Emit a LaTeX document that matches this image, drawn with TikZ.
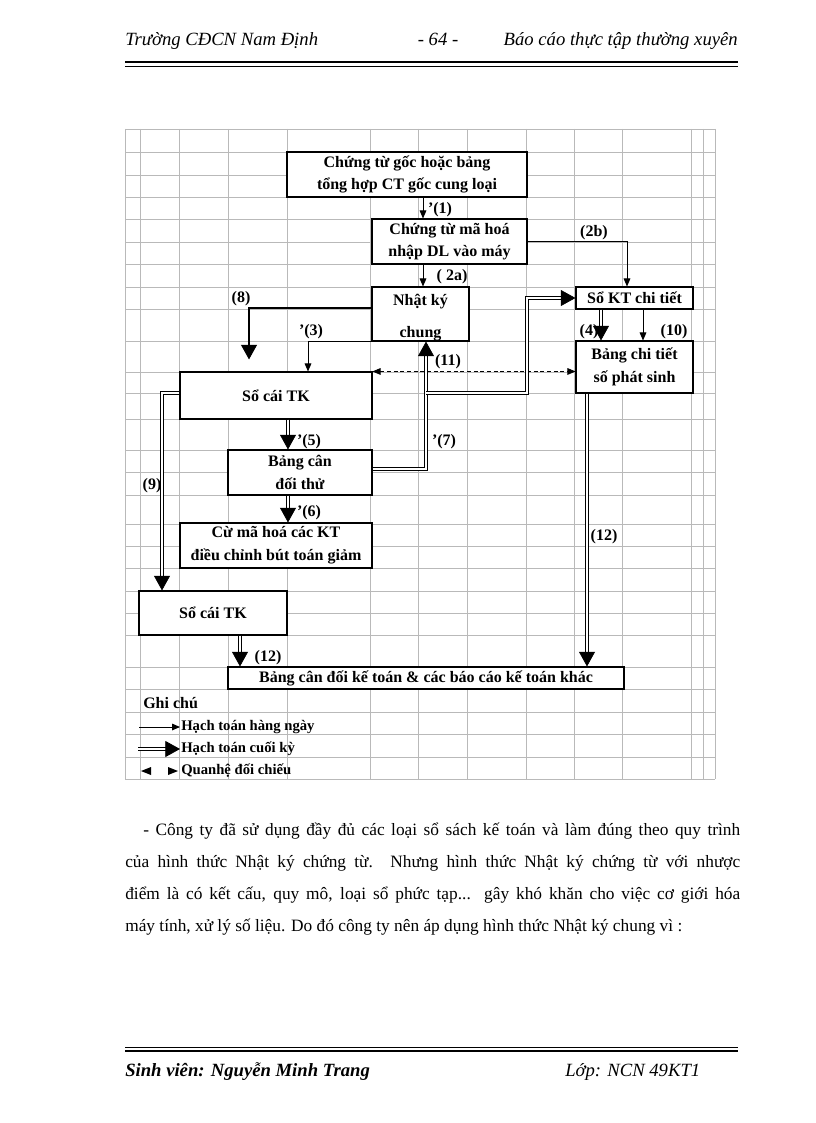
\documentclass[tikz,border=0pt]{standalone}
\usepackage{fontspec}
\setmainfont{Liberation Serif}
\usetikzlibrary{arrows.meta}
\begin{document}
\begin{tikzpicture}[x=0.75pt,y=-0.75pt,
  box/.style={draw,line width=0.8pt,fill=white,font=\fontsize{12}{17}\selectfont\bfseries,align=center,inner sep=0pt},
  lbl/.style={font=\fontsize{12}{14}\selectfont\bfseries,inner sep=0pt},
  lgd/.style={font=\fontsize{11}{13}\selectfont\bfseries,inner sep=0pt,anchor=west},
  daily/.style={line width=0.7pt,-{Triangle[length=6pt,width=5pt]}},
  endsg/.style={line width=0.8pt,-{Triangle[length=11pt,width=12pt]}},
  endp/.style={double,line width=0.6pt,double distance=1.6pt,-{Triangle[length=11pt,width=12pt]}},
  cmp/.style={dashed,line width=0.6pt,dash pattern=on 3pt off 2pt,{Triangle[length=6pt,width=5pt]}-{Triangle[length=6pt,width=5pt]}},
  gridln/.style={gray!55,line width=0.5pt},
  hdr/.style={inner sep=0pt,font=\fontsize{14}{16}\selectfont\itshape}
]
\useasboundingbox (0,0) rectangle (816,1123);
\fill[white] (0,0) rectangle (816,1123);

% header
\node[hdr,anchor=base west] (h1) at (125,46) {Trường CĐCN Nam Định};
\node[hdr,anchor=base] (h2) at (438,46) {- 64 -};
\node[hdr,anchor=base east] (h3) at (738,46) {Báo cáo thực tập thường xuyên};
\draw[line width=1.6pt] (125,62) -- (738,62);
\draw[line width=0.6pt] (125,66) -- (738,66);

% grid
\foreach \x in {125,140,179,228,287,370,418,467,526,574,622,691,703,715}
  \draw[gridln] (\x,129) -- (\x,779);
\foreach \y in {129,152,175,197,219,242,264,287,309,341,372,393,419,450,472,495,524,546,568,591,613,635,667,689,712,734,757,779}
  \draw[gridln] (125,\y) -- (715,\y);

% boxes
\node[box,minimum width=180pt,minimum height=33.75pt] (A) at (407,174.5) {Chứng từ gốc hoặc bảng\\tổng hợp CT gốc cung loại};
\node[box,minimum width=116.25pt,minimum height=33.75pt] (B) at (449.5,241.5) {Chứng từ mã hoá\\nhập DL vào máy};
\node[box,minimum width=72.75pt,minimum height=40.5pt] (C) at (420.5,314) {\rule{0pt}{13.5pt}Nhật ký\\[7.3pt]chung};
\node[box,minimum width=87.75pt,minimum height=16.5pt] (D) at (634.5,298) {Sổ KT chi tiết};
\node[box,minimum width=87.75pt,minimum height=39pt] (E) at (634.5,367) {Bảng chi tiết\\số phát sinh};
\node[box,minimum width=144pt,minimum height=35.25pt] (F) at (276,395.5) {Sổ cái TK};
\node[box,minimum width=108pt,minimum height=33.75pt] (G) at (300,472.5) {Bảng cân\\đối thử};
\node[box,minimum width=144pt,minimum height=33.75pt] (H) at (276,545.5) {Cừ mã hoá các KT\\điều chỉnh bút toán giảm};
\node[box,minimum width=111pt,minimum height=33pt] (I) at (213,613) {Sổ cái TK};
\node[box,minimum width=297pt,minimum height=16.5pt] (J) at (426,678) {Bảng cân đối kế toán \& các báo cáo kế toán khác};

% helper coordinates
\coordinate (x423) at (423,0);
\coordinate (x627) at (627,0);
\coordinate (x249) at (249,0);
\coordinate (x308) at (308,0);
\coordinate (x601) at (601,0);
\coordinate (x643) at (643,0);
\coordinate (x426) at (426,0);
\coordinate (x527) at (527,0);
\coordinate (x288) at (288,0);
\coordinate (x162) at (162,0);
\coordinate (x240) at (240,0);
\coordinate (x587) at (587,0);
\coordinate (y308) at (0,308);
\coordinate (y393) at (0,393);
\coordinate (y469) at (0,469);
\coordinate (br) at (426,393);

% connectors
\draw[daily] (A.south -| x423) -- (B.north -| x423);
\draw[daily] (B.south -| x423) -- (C.north -| x423);
\draw[daily] (B.east) -| (D.north -| x627);
\draw[endsg,shorten >=9pt] (C.west |- y308) -| (F.north -| x249);
\draw[daily] (C.south west) -| (F.north -| x308);
\draw[endp] (D.south -| x601) -- (E.north -| x601);
\draw[daily] (D.south -| x643) -- (E.north -| x643);
\draw[cmp] (F.north east) -- (E.west |- F.north east);
\draw[endp] (G.east |- y469) -| (C.south -| x426);
\draw[endp] (br) -| (x527 |- D.west) -- (D.west);
\draw[endp] (F.west |- y393) -| (I.north -| x162);
\draw[endp] (F.south -| x288) -- (G.north -| x288);
\draw[endp] (G.south -| x288) -- (H.north -| x288);
\draw[endp] (I.south -| x240) -- (J.north -| x240);
\draw[endp] (E.south -| x587) -- (J.north -| x587);

% connector labels
\node[lbl] (l1) at (440,210) {'(1)};
\node[lbl] (l2a) at (452,277) {( 2a)};
\node[lbl] (l2b) at (594,233) {(2b)};
\node[lbl] (l8) at (241,299) {(8)};
\node[lbl] (l3) at (311,332) {'(3)};
\node[lbl] (l4) at (589,332) {(4)};
\node[lbl] (l10) at (674,332) {(10)};
\node[lbl] (l11) at (448,362) {(11)};
\node[lbl] (l7) at (444,442) {'(7)};
\node[lbl] (l5) at (309,442) {'(5)};
\node[lbl] (l6) at (309,513) {'(6)};
\node[lbl] (l9) at (152,486) {(9)};
\node[lbl] (l12b) at (604,537) {(12)};
\node[lbl] (l12a) at (268,658) {(12)};

% legend
\node[lbl,anchor=west] (gc) at (143,703) {Ghi chú};
\draw[daily] (139,727) -- (180,727);
\node[lgd] (lt1) at (181,727) {Hạch toán hàng ngày};
\draw[endp] (138,749) -- (180,749);
\node[lgd] (lt2) at (181,749) {Hạch toán cuối kỳ};
\fill (141,771) -- (151,767) -- (151,775) -- cycle;
\fill (178,771) -- (168,767) -- (168,775) -- cycle;
\node[lgd] (lt3) at (181,771) {Quanhệ đối chiếu};

% paragraph
\node[anchor=north west,inner sep=0pt,text width=461.25pt,align=justify,font=\fontsize{13}{24}\selectfont] (para) at (125,823)
{\hspace*{13.5pt}- Công ty đã sử dụng đầy đủ các loại sổ sách kế toán và làm đúng theo quy trình\linebreak của hình thức Nhật ký chứng từ. Nhưng hình thức Nhật ký chứng từ với nhược\linebreak điểm là có kết cấu, quy mô, loại sổ phức tạp... gây khó khăn cho việc cơ giới hóa\linebreak máy tính, xử lý số liệu. Do đó công ty nên áp dụng hình thức Nhật ký chung vì :};

% footer
\draw[line width=0.6pt] (125,1047) -- (738,1047);
\draw[line width=1.6pt] (125,1051) -- (738,1051);
\node[hdr,anchor=base west,font=\fontsize{14}{16}\selectfont\bfseries\itshape] (f1) at (125,1076) {Sinh viên: Nguyễn Minh Trang};
\node[hdr,anchor=base west] (f2) at (565,1076) {Lớp: NCN 49KT1};
\end{tikzpicture}
\end{document}
